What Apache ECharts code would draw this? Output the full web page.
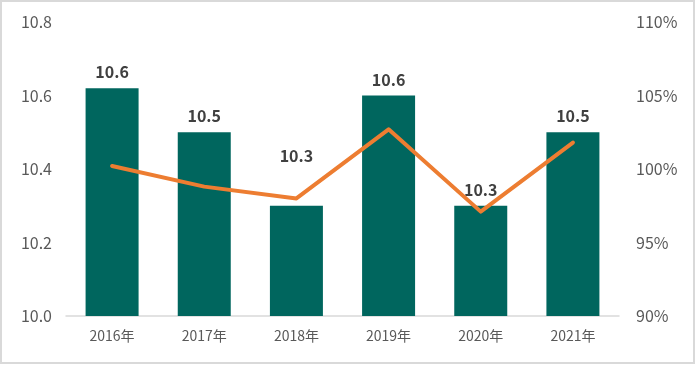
<!DOCTYPE html>
<html><head><meta charset="utf-8">
<script src="https://cdn.jsdelivr.net/npm/echarts@6/dist/echarts.min.js"></script>
<style>html,body{margin:0;padding:0;background:#fff}#c{width:696px;height:365px}</style>
</head><body><div id="c"></div>
<script>
const categories = ['2016年','2017年','2018年','2019年','2020年','2021年'];
const barValues = [10.62, 10.50, 10.30, 10.60, 10.30, 10.50];
const barLabels = ['10.6','10.5','10.3','10.6','10.3','10.5'];
const ratioValues = [100.2, 98.8, 98.0, 102.7, 97.1, 101.8];
const leftTicks = [10.0, 10.2, 10.4, 10.6, 10.8];
const rightTicks = [90, 95, 100, 105, 110];

const chart = echarts.init(document.getElementById('c'));
const font = '"Noto Sans CJK JP", "Noto Sans", sans-serif';
const barData = barValues.map((v, i) => i === 2 ? {value: v, label: {offset: [0, -34]}} : v);
chart.setOption({
  animation: false,
  textStyle: {fontFamily: font},
  graphic: [{type:'rect', shape:{x:1,y:1,width:693,height:362}, style:{fill:'none', stroke:'#d9d9d9', lineWidth:2}, silent:true}],
  grid: {left: 66, right: 77, top: 22, bottom: 49},
  xAxis: {
    type: 'category', data: categories,
    axisLine: {lineStyle: {color: '#d9d9d9', width: 1.5}},
    axisTick: {show: false},
    axisLabel: {color: '#595959', fontSize: 14, margin: 13, fontFamily: font}
  },
  yAxis: [{
    type: 'value', min: leftTicks[0], max: leftTicks[leftTicks.length-1], interval: 0.2,
    splitLine: {show: false},
    axisLine: {show: false}, axisTick: {show: false},
    axisLabel: {color: '#595959', fontSize: 16, margin: 14, fontFamily: font, formatter: v => v.toFixed(1)}
  }, {
    type: 'value', min: rightTicks[0], max: rightTicks[rightTicks.length-1], interval: 5,
    splitLine: {show: false},
    axisLine: {show: false}, axisTick: {show: false},
    axisLabel: {color: '#595959', fontSize: 16, margin: 17, fontFamily: font, formatter: v => v + '%'}
  }],
  series: [{
    type: 'bar', data: barData, barWidth: 53, yAxisIndex: 0,
    itemStyle: {color: '#00665E'},
    label: {show: true, position: 'top', distance: 8, color: '#404040', fontSize: 16, fontWeight: 'bold', fontFamily: font,
      formatter: p => barLabels[p.dataIndex]}
  }, {
    type: 'line', data: ratioValues, yAxisIndex: 1, smooth: false,
    symbol: 'none', lineStyle: {color: '#ED7D31', width: 4, cap: 'round', join: 'round'}, z: 3
  }]
});
</script></body></html>
